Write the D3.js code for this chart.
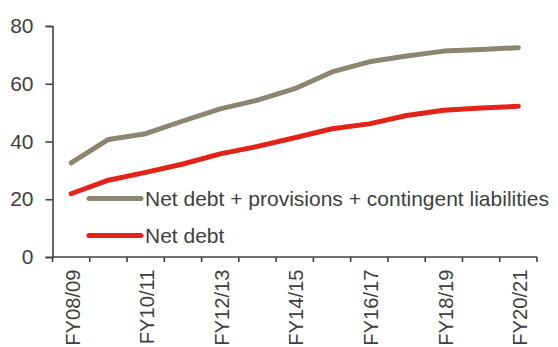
<!DOCTYPE html>
<html><head><meta charset="utf-8">
<script src="https://cdn.jsdelivr.net/npm/d3@7"></script>
<style>body{margin:0;background:#fff}svg{display:block}</style>
</head><body>
<script>
const categories = ["FY08/09","FY09/10","FY10/11","FY11/12","FY12/13","FY13/14","FY14/15","FY15/16","FY16/17","FY17/18","FY18/19","FY19/20","FY20/21"];
const totalLiab = [32.6,40.7,42.7,47.1,51.3,54.3,58.3,64.1,67.6,69.6,71.3,71.9,72.5];
const netDebt = [21.9,26.6,29.3,32.2,35.7,38.3,41.3,44.4,46.1,49.0,50.8,51.6,52.2];
const yTicks = [0,20,40,60,80];
const seriesNames = ["Net debt + provisions + contingent liabilities","Net debt"];
const colors = ["#8c8670","#e2231a"];

const W=558,H=347;
const m={left:52.5,right:21,top:26,bottom:90};
const svg=d3.select("body").append("svg").attr("width",W).attr("height",H);
const x=d3.scaleBand().domain(categories).range([m.left,W-m.right]);
const y=d3.scaleLinear().domain([0,80]).range([H-m.bottom,m.top]);
const font="Liberation Sans, Arial, sans-serif";
const axisCol="#404040", textCol="#404040";
const fs=21;

// y axis
const ya=svg.append("g").attr("transform",`translate(${m.left},0)`)
 .call(d3.axisLeft(y).tickValues(yTicks).tickSize(7).tickPadding(12));
ya.select(".domain").attr("stroke",axisCol).attr("stroke-width",1.6);
ya.selectAll(".tick line").attr("stroke",axisCol).attr("stroke-width",1.6);
ya.selectAll("text").attr("font-family",font).attr("font-size",fs).attr("fill",textCol);

// x axis: ticks at band boundaries
const xa=svg.append("g").attr("transform",`translate(0,${H-m.bottom})`);
const bounds=categories.map(c=>x(c)).concat([x(categories[categories.length-1])+x.bandwidth()]);
xa.append("line").attr("x1",m.left).attr("x2",W-m.right).attr("stroke",axisCol).attr("stroke-width",1.6);
xa.selectAll("line.t").data(bounds).join("line").attr("class","t")
 .attr("x1",d=>d).attr("x2",d=>d).attr("y1",0).attr("y2",5).attr("stroke",axisCol).attr("stroke-width",1.6);
xa.selectAll("text").data(categories.filter((c,i)=>i%2===0)).join("text")
 .attr("transform",d=>`translate(${x(d)+x.bandwidth()/2+8.7},12.5) rotate(-90)`)
 .attr("text-anchor","end").attr("font-family",font).attr("font-size",20.2).attr("fill",textCol).text(d=>d);

const line=d3.line().x((d,i)=>x(categories[i])+x.bandwidth()/2).y(d=>y(d));
[totalLiab,netDebt].forEach((s,k)=>{
 svg.append("path").datum(s).attr("d",line).attr("fill","none").attr("stroke",colors[k])
  .attr("stroke-width",5).attr("stroke-linecap","round").attr("stroke-linejoin","round");
});

// legend
const lg=[{y:198.5},{y:235.5}];
seriesNames.forEach((n,k)=>{
 svg.append("line").attr("x1",89).attr("x2",141).attr("y1",lg[k].y).attr("y2",lg[k].y)
  .attr("stroke",colors[k]).attr("stroke-width",5).attr("stroke-linecap","round");
 svg.append("text").attr("x",145).attr("y",lg[k].y+7).attr("font-family",font).attr("font-size",fs)
  .attr("fill",textCol).text(n);
});
</script>
</body></html>
